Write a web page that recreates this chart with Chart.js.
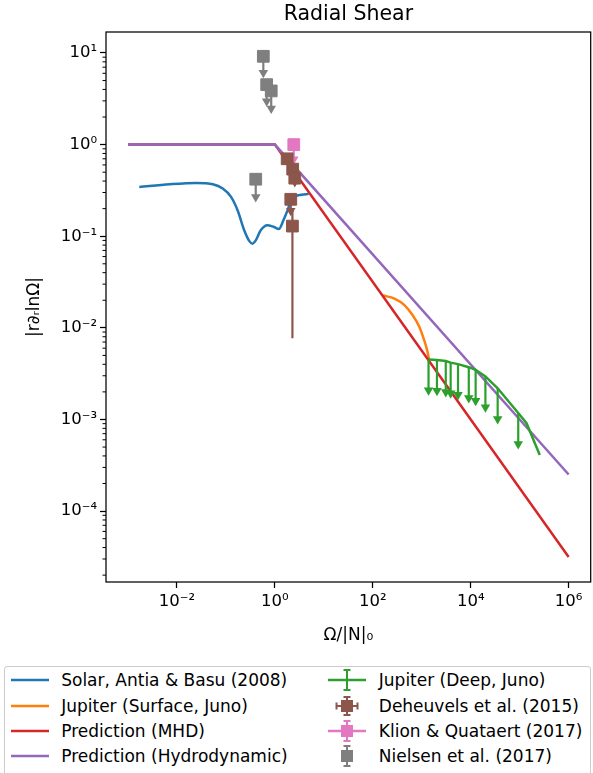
<!DOCTYPE html>
<html>
<head>
<meta charset="utf-8">
<title>Radial Shear</title>
<script src="https://cdn.jsdelivr.net/npm/chart.js@4.4.0/dist/chart.umd.min.js"></script>
<style>
  body { margin: 0; background: #fff; overflow: hidden; font-family: 'DejaVu Sans', sans-serif; }
  #wrap { position: relative; width: 593px; height: 773px; overflow: hidden; }
  #c { position: absolute; left: 0; top: 0; }
  #legend { position: absolute; left: 4px; top: 666px; width: 587px; height: 112px; border: 1px solid #ccc;
            border-radius: 3px; box-sizing: border-box; font-size: 17px; color: #000; }
  .item { position: absolute; display: flex; align-items: center; height: 24px; white-space: nowrap; }
  .item svg { margin-right: 12.5px; flex: none; }
</style>
</head>
<body>
<div id="wrap">
  <canvas id="c" width="600" height="660"></canvas>
  <div id="legend"></div>
</div>
<script>
// axis ticks
const xTickValues = [1e-2, 1e0, 1e2, 1e4, 1e6];
const xTickLabels = ['10⁻²', '10⁰', '10²', '10⁴', '10⁶'];
const yTickValues = [1e-4, 1e-3, 1e-2, 1e-1, 1e0, 1e1];
const yTickLabels = ['10⁻⁴', '10⁻³', '10⁻²', '10⁻¹', '10⁰', '10¹'];

// Solar, Antia & Basu (2008)
const solarX = [0.0017, 0.0071, 0.025, 0.054, 0.086, 0.127, 0.173, 0.236, 0.298, 0.348, 0.406, 0.513, 0.70, 0.955, 1.2, 1.5, 1.8, 2.1, 2.6, 3.5, 4.9];
const solarY = [0.345, 0.369, 0.381, 0.369, 0.331, 0.269, 0.192, 0.116, 0.089, 0.083, 0.090, 0.116, 0.132, 0.126, 0.12, 0.15, 0.19, 0.24, 0.272, 0.283, 0.29];

// Jupiter (Surface, Juno)
const surfaceX = [161, 277, 443, 652, 889, 1122, 1309, 1413];
const surfaceY = [0.0225, 0.0209, 0.0177, 0.0137, 0.0103, 0.0073, 0.0055, 0.0045];

// predictions
const mhdX = [1e-3, 1, 1e6];
const mhdY = [1, 1, 3.16e-5];
const hydroX = [1e-3, 1, 1e6];
const hydroY = [1, 1, 2.51e-4];

// Jupiter (Deep, Juno) - upper limits
const deepX = [1374, 2042, 3090, 3890, 5495, 9120, 12590, 19950, 35480, 93330, 138000, 257000];
const deepY = [4.52e-3, 4.45e-3, 4.34e-3, 4.17e-3, 4.02e-3, 3.72e-3, 3.47e-3, 2.95e-3, 2.19e-3, 1.175e-3, 9.1e-4, 4.1e-4];
const deepLow = [2.09e-3, 2.06e-3, 2.0e-3, 1.93e-3, 1.86e-3, 1.72e-3, 1.6e-3, 1.36e-3, 1.01e-3, 5.4e-4, null, null];

// Deheuvels et al. (2015)
const dehX = [1.78, 2.31, 2.55, 2.11, 2.28];
const dehY = [0.70, 0.54, 0.43, 0.253, 0.129];
const dehArrowLow = [null, null, 0.39, 0.19, null];
const dehErrLow = [null, null, null, null, 0.0077];
const dehErrHigh = [null, null, null, null, 0.2];

// Klion & Quataert (2017)
const klionX = [2.43];
const klionY = [1.0];
const klionLow = [0.69];

// Nielsen et al. (2017)
const nielsenX = [0.58, 0.679, 0.841, 0.406];
const nielsenY = [9.2, 4.51, 3.85, 0.419];
const nielsenLow = [6.1, 2.97, 2.47, 0.268];

const legendLabels = ['Solar, Antia & Basu (2008)', 'Jupiter (Surface, Juno)', 'Prediction (MHD)', 'Prediction (Hydrodynamic)',
                      'Jupiter (Deep, Juno)', 'Deheuvels et al. (2015)', 'Klion & Quataert (2017)', 'Nielsen et al. (2017)'];

const blue = '#1f77b4', orange = '#ff7f0e', green = '#2ca02c', red = '#d62728',
      purple = '#9467bd', brown = '#8c564b', pink = '#e377c2', grey = '#7f7f7f';
const FONT = 'DejaVu Sans';

function pts(xs, ys) { return xs.map((x, i) => ({x: x, y: ys[i]})); }

function curve(xs, ys, color, order, smooth) {
  return {
    data: pts(xs, ys), showLine: true, borderColor: color, borderWidth: 2.5,
    pointRadius: 0, tension: 0, cubicInterpolationMode: smooth ? 'monotone' : 'default',
    fill: false, order: order
  };
}

function squares(xs, ys, color, order) {
  return {
    data: pts(xs, ys), showLine: false, pointStyle: 'rect', pointRadius: 8.3,
    pointBackgroundColor: color, pointBorderColor: color, pointBorderWidth: 1, order: order
  };
}

// downward arrows for upper limits: shaft from the value to the arrow head
function arrows(xs, ys, lows, color, order) {
  const out = [];
  xs.forEach((x, i) => {
    if (lows[i] == null) return;
    out.push({
      data: [{x: x, y: ys[i]}, {x: x, y: lows[i]}], showLine: true, borderColor: color, borderWidth: 2.2,
      pointStyle: 'triangle', rotation: 180, pointRadius: [0, 5.5],
      pointBackgroundColor: color, pointBorderColor: color, pointBorderWidth: 0, order: order
    });
  });
  return out;
}

function bars(xs, lows, highs, color, order) {
  const out = [];
  xs.forEach((x, i) => {
    if (lows[i] == null) return;
    out.push({
      data: [{x: x, y: lows[i]}, {x: x, y: highs[i]}], showLine: true, borderColor: color,
      borderWidth: 2.2, pointRadius: 0, order: order
    });
  });
  return out;
}

const datasets = [
  curve(solarX, solarY, blue, 80, true),
  curve(surfaceX, surfaceY, orange, 70, true),
  curve(mhdX, mhdY, red, 60, false),
  curve(hydroX, hydroY, purple, 50, false),
  curve(deepX, deepY, green, 40, false),
  ...arrows(deepX, deepY, deepLow, green, 40),
  ...arrows(nielsenX, nielsenY, nielsenLow, grey, 31),
  squares(nielsenX, nielsenY, grey, 30),
  ...arrows(klionX, klionY, klionLow, pink, 21),
  squares(klionX, klionY, pink, 20),
  ...bars(dehX, dehErrLow, dehErrHigh, brown, 11),
  ...arrows(dehX, dehY, dehArrowLow, brown, 11),
  squares(dehX, dehY, brown, 10)
];

// minor ticks on the y axis (2..9 in every decade)
const yMinorValues = [];
for (let e = -5; e <= 1; e++) {
  for (let m = 2; m <= 9; m++) yMinorValues.push(m * Math.pow(10, e));
}

const minorTicks = {
  id: 'minorTicks',
  afterDraw(chart) {
    const y = chart.scales.y, ctx = chart.ctx, area = chart.chartArea;
    ctx.save();
    ctx.strokeStyle = '#000';
    ctx.lineWidth = 1;
    yMinorValues.forEach(v => {
      const p = y.getPixelForValue(v);
      if (p < area.top || p > area.bottom) return;
      ctx.beginPath();
      ctx.moveTo(area.left - 3.5, p);
      ctx.lineTo(area.left, p);
      ctx.stroke();
    });
    ctx.restore();
  }
};

const frame = {
  id: 'frame',
  afterDatasetsDraw(chart) {
    const a = chart.chartArea, ctx = chart.ctx;
    ctx.save();
    ctx.strokeStyle = '#000';
    ctx.lineWidth = 1.25;
    ctx.strokeRect(a.left, a.top, a.right - a.left, a.bottom - a.top);
    ctx.restore();
  }
};

const tickFont = {family: FONT, size: 16.5};
const labelFont = {family: FONT, size: 17};

new Chart(document.getElementById('c'), {
  type: 'scatter',
  data: {datasets: datasets},
  options: {
    responsive: false,
    animation: false,
    devicePixelRatio: 1,
    layout: {padding: {left: 0, right: 5, top: 0, bottom: 0}},
    plugins: {
      legend: {display: false},
      tooltip: {enabled: false},
      title: {
        display: true, text: 'Radial Shear', fullSize: false, color: '#000',
        font: {family: FONT, size: 20.5, weight: 'normal'}, padding: {top: 2, bottom: 5.4}
      }
    },
    scales: {
      x: {
        type: 'logarithmic', min: 3.55e-4, max: 2.82e6, bounds: 'data',
        afterBuildTicks: s => { s.ticks = xTickValues.map(v => ({value: v})); },
        afterFit: s => { s.height = 78; s.paddingLeft = 0; s.paddingRight = 0; },
        ticks: {callback: (v, i) => xTickLabels[i], font: tickFont, color: '#000', padding: 3.5, maxRotation: 0, autoSkip: false},
        grid: {drawOnChartArea: false, tickLength: 6, tickWidth: 1.25, tickColor: '#000'},
        border: {display: false},
        title: {display: true, text: 'Ω/|N|₀', font: labelFont, color: '#000', padding: {top: 0, bottom: 14.3}}
      },
      y: {
        type: 'logarithmic', min: 1.683e-5, max: 16.94, bounds: 'data',
        afterBuildTicks: s => { s.ticks = yTickValues.map(v => ({value: v})); },
        afterFit: s => { s.width = 106; s.paddingTop = 0; s.paddingBottom = 0; },
        ticks: {callback: (v, i) => yTickLabels[i], font: tickFont, color: '#000', padding: 3, autoSkip: false},
        grid: {drawOnChartArea: false, tickLength: 6, tickWidth: 1.25, tickColor: '#000'},
        border: {display: false},
        title: {display: true, text: '|r∂ᵣlnΩ|', font: labelFont, color: '#000', padding: {top: 24.8, bottom: 0}}
      }
    }
  },
  plugins: [minorTicks, frame]
});

// legend in two columns, like the reference
function icon(kind, c) {
  let s = '';
  const vbar = (h) => `<line x1="19" y1="${12 - h}" x2="19" y2="${12 + h}" stroke="${c}" stroke-width="2"/>` +
    `<line x1="15.5" y1="${12 - h}" x2="22.5" y2="${12 - h}" stroke="${c}" stroke-width="2"/>` +
    `<line x1="15.5" y1="${12 + h}" x2="22.5" y2="${12 + h}" stroke="${c}" stroke-width="2"/>`;
  const hline = `<line x1="0" y1="12" x2="38" y2="12" stroke="${c}" stroke-width="2.5"/>`;
  const sq = `<rect x="13" y="6" width="12" height="12" fill="${c}"/>`;
  if (kind === 'line') s = hline;
  if (kind === 'deep') s = hline + vbar(10);
  if (kind === 'deh') s = `<line x1="8.5" y1="12" x2="29.5" y2="12" stroke="${c}" stroke-width="2"/>` +
    `<line x1="8.5" y1="8.5" x2="8.5" y2="15.5" stroke="${c}" stroke-width="2"/>` +
    `<line x1="29.5" y1="8.5" x2="29.5" y2="15.5" stroke="${c}" stroke-width="2"/>` + vbar(9) + sq;
  if (kind === 'klion') s = hline + vbar(10) + sq;
  if (kind === 'niel') s = vbar(10) + sq;
  return `<svg width="38" height="24" viewBox="0 0 38 24">${s}</svg>`;
}

const legendKinds = ['line', 'line', 'line', 'line', 'deep', 'deh', 'klion', 'niel'];
const legendColors = [blue, orange, red, purple, green, brown, pink, grey];
const rowCenters = [13, 38.5, 64, 89];
const legend = document.getElementById('legend');
legendLabels.forEach((label, i) => {
  const col = i < 4 ? 0 : 1;
  const row = i % 4;
  const div = document.createElement('div');
  div.className = 'item';
  div.style.left = (col ? 323.3 : 5.7) + 'px';
  div.style.top = (rowCenters[row] - 12) + 'px';
  div.innerHTML = icon(legendKinds[i], legendColors[i]);
  const span = document.createElement('span');
  span.textContent = label;
  div.appendChild(span);
  legend.appendChild(div);
});
</script>
</body>
</html>
